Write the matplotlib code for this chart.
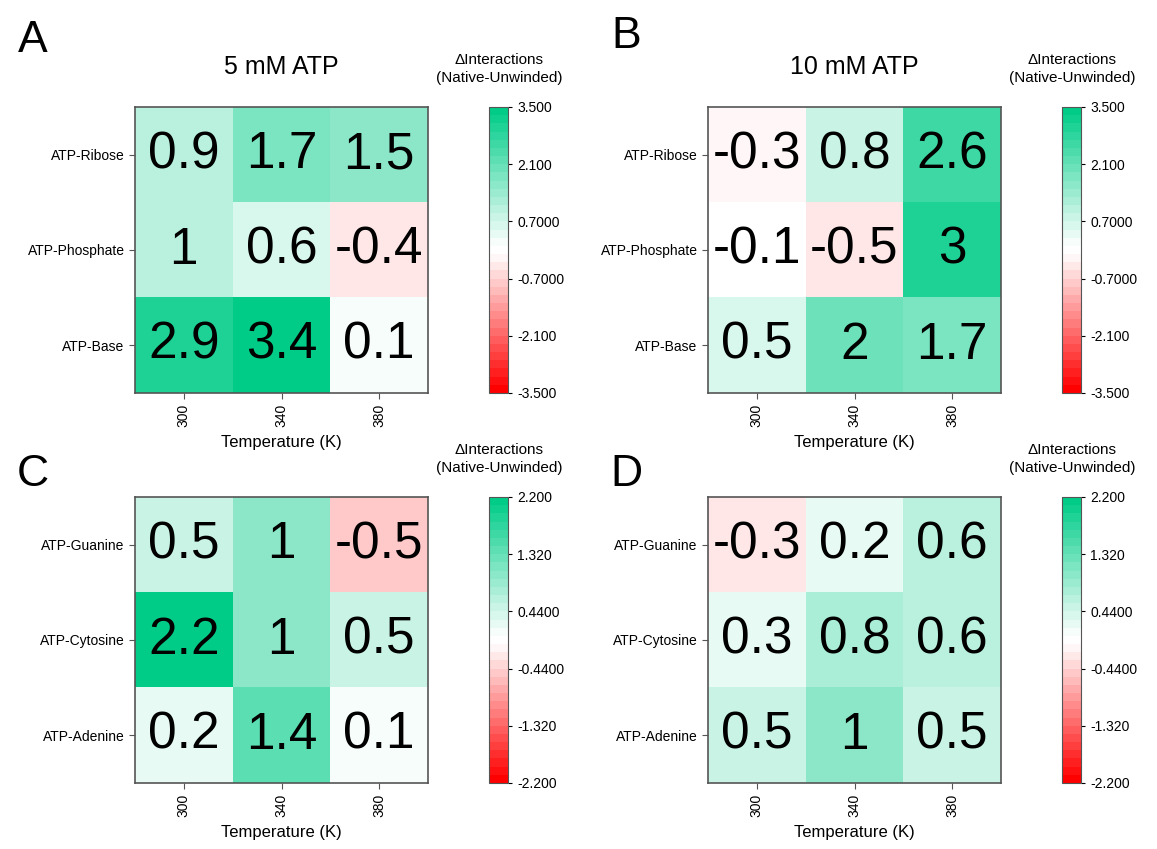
import numpy as np
import matplotlib.pyplot as plt
from matplotlib.colors import LinearSegmentedColormap

plt.rcParams['font.family'] = ['Liberation Sans', 'DejaVu Sans']

temps = ['300', '340', '380']
rows_top = ['ATP-Ribose', 'ATP-Phosphate', 'ATP-Base']
rows_bot = ['ATP-Guanine', 'ATP-Cytosine', 'ATP-Adenine']

vals_a = [[0.9, 1.7, 1.5], [1, 0.6, -0.4], [2.9, 3.4, 0.1]]
vals_b = [[-0.3, 0.8, 2.6], [-0.1, -0.5, 3], [0.5, 2, 1.7]]
vals_c = [[0.5, 1, -0.5], [2.2, 1, 0.5], [0.2, 1.4, 0.1]]
vals_d = [[-0.3, 0.2, 0.6], [0.3, 0.8, 0.6], [0.5, 1, 0.5]]

ticks_top = [3.5, 2.1, 0.7, -0.7, -2.1, -3.5]
ticklab_top = ['3.500', '2.100', '0.7000', '-0.7000', '-2.100', '-3.500']
ticks_bot = [2.2, 1.32, 0.44, -0.44, -1.32, -2.2]
ticklab_bot = ['2.200', '1.320', '0.4400', '-0.4400', '-1.320', '-2.200']

cmap = LinearSegmentedColormap.from_list(
    'rg', [(0, '#ff0000'), (0.485, '#ffffff'), (0.515, '#ffffff'), (1, '#00cc88')], N=35)

W, H = 1157, 849
fig = plt.figure(figsize=(W / 100, H / 100), dpi=100)


def px(x0, y0, x1, y1):
    return [x0 / W, 1 - y1 / H, (x1 - x0) / W, (y1 - y0) / H]


def panel(vals, rows, lim, ticks, ticklab, x0, y0, letter, lx, ly, title=None):
    ax = fig.add_axes(px(x0, y0, x0 + 293, y0 + 286))
    im = ax.imshow(np.array(vals), cmap=cmap, vmin=-lim, vmax=lim, aspect='auto')
    for i in range(3):
        for j in range(3):
            v = vals[i][j]
            ax.text(j, i, f'{v:g}', ha='center', va='center', fontsize=37)
    ax.set_xticks(range(3))
    ax.set_xticklabels(temps, rotation=90, fontsize=10)
    ax.set_yticks(range(3))
    ax.set_yticklabels(rows, fontsize=10)
    ax.set_xlabel('Temperature (K)', fontsize=12, labelpad=6)
    for s in ax.spines.values():
        s.set_color('#555555')
        s.set_linewidth(1.2)
    ax.tick_params(length=4, color='#555555')
    if title:
        ax.set_title(title, fontsize=18, pad=24)
    fig.text(lx / W, 1 - ly / H, letter, fontsize=32, ha='center', va='center')
    cax = fig.add_axes(px(x0 + 354, y0, x0 + 373, y0 + 286))
    cb = fig.colorbar(im, cax=cax)
    cb.set_ticks(ticks)
    cb.set_ticklabels(ticklab)
    cb.ax.tick_params(labelsize=10, length=3)
    cb.outline.set_edgecolor('#555555')
    fig.text((x0 + 364) / W, 1 - (y0 - 38) / H, '\u0394Interactions\n(Native-Unwinded)',
             ha='center', va='center', fontsize=11, linespacing=1.3)


panel(vals_a, rows_top, 3.5, ticks_top, ticklab_top, 135, 107, 'A', 33, 40, '5 mM ATP')
panel(vals_b, rows_top, 3.5, ticks_top, ticklab_top, 708, 107, 'B', 626, 37, '10 mM ATP')
panel(vals_c, rows_bot, 2.2, ticks_bot, ticklab_bot, 135, 497, 'C', 33, 474)
panel(vals_d, rows_bot, 2.2, ticks_bot, ticklab_bot, 708, 497, 'D', 626, 474)

plt.savefig('out.png', dpi=100)
